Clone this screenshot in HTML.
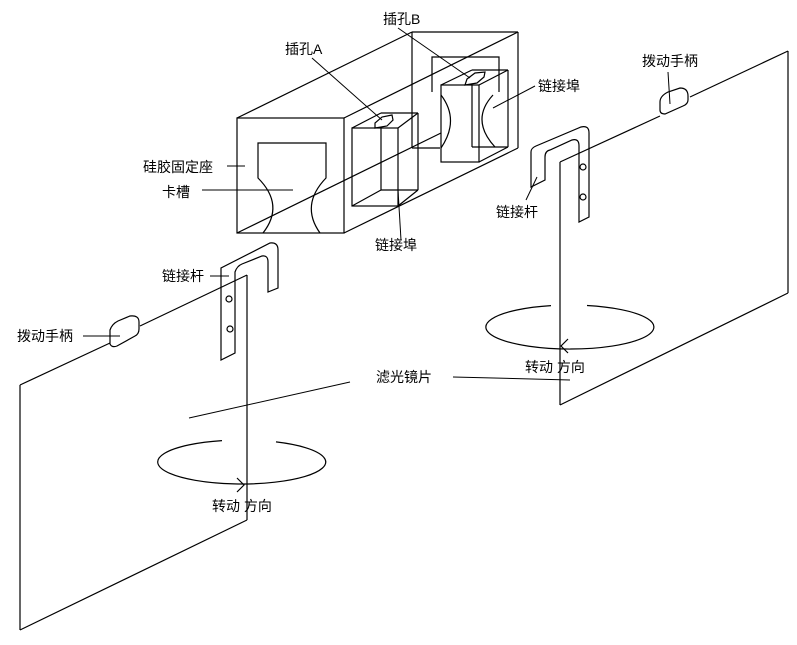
<!DOCTYPE html>
<html><head><meta charset="utf-8"><style>
html,body{margin:0;padding:0;background:#fff;}
svg{display:block;}
text{font-family:"Liberation Sans","Noto Sans CJK SC",sans-serif;font-size:14px;fill:#000;}
</style></head><body>
<svg width="797" height="645" viewBox="0 0 797 645" xmlns="http://www.w3.org/2000/svg">
<g fill="none" stroke="#000" stroke-width="1.2">
<rect x="237" y="118" width="107" height="115"/>
<line x1="237" y1="118" x2="412" y2="32"/>
<line x1="344" y1="118" x2="518" y2="32"/>
<line x1="412" y1="32" x2="518" y2="32"/>
<line x1="518" y1="32" x2="518" y2="148"/>
<line x1="344" y1="233" x2="518" y2="148"/>
<line x1="237" y1="233" x2="441" y2="133"/>
<line x1="412" y1="32" x2="412" y2="148"/>
<line x1="412" y1="148" x2="440" y2="148"/>
<path d="M263,233 Q285,205 258,178 L258,143 L326,143 L326,178 Q300,205 320,233"/>
<rect x="352" y="128" width="46" height="78"/>
<line x1="352" y1="128" x2="381" y2="113"/>
<line x1="381" y1="113" x2="418" y2="113"/>
<line x1="398" y1="128" x2="418" y2="113"/>
<line x1="418" y1="113" x2="418" y2="190"/>
<line x1="381" y1="128" x2="381" y2="190"/>
<line x1="381" y1="190" x2="418" y2="190"/>
<line x1="352" y1="206" x2="381" y2="190"/>
<line x1="398" y1="206" x2="418" y2="190"/>
<path d="M375,128 L375,123 L382,117 L392,115 L393,120 L387,126 Z"/>
<rect x="441" y="85" width="38" height="77"/>
<line x1="441" y1="85" x2="472" y2="70"/>
<line x1="472" y1="70" x2="508" y2="70"/>
<line x1="479" y1="85" x2="508" y2="70"/>
<line x1="508" y1="70" x2="508" y2="147"/>
<line x1="472" y1="85" x2="472" y2="147"/>
<line x1="472" y1="147" x2="508" y2="147"/>
<line x1="479" y1="162" x2="508" y2="147"/>
<path d="M432,92 L432,57 L499,57 L499,92"/>
<path d="M441,95 Q460,120 441,148"/>
<path d="M493,95 Q470,120 495,147"/>
<path d="M465,85 L467,79 L475,73 L485,72 L484,77 L477,83 Z"/>
<line x1="560" y1="162" x2="560" y2="405"/>
<line x1="560" y1="405" x2="788" y2="293"/>
<line x1="788" y1="293" x2="788" y2="51"/>
<line x1="560" y1="162" x2="660" y2="116"/>
<line x1="690" y1="97" x2="788" y2="51"/>
<path d="M660,102 Q660,96 668,92 L680,88 Q688,88 688,96 L688,100 Q688,104 683,106 L665,114 Q660,114 660,110 Z"/>
<line x1="20" y1="385" x2="20" y2="630"/>
<line x1="20" y1="630" x2="247" y2="520"/>
<line x1="247" y1="275" x2="247" y2="520"/>
<line x1="20" y1="385" x2="110" y2="343"/>
<line x1="140" y1="326" x2="247" y2="275"/>
<path d="M110,330 Q112,324 118,321 L130,316 Q139,315 139,322 L139,329 Q139,334 135,336 L117,346 Q112,348 110,344 Z"/>
<path d="M222,440.6 A84,22 0 1 0 276,441.9"/>
<path d="M551,305.6 A84,22 0 1 0 587,305.5"/>
<path d="M237,478 L244,485 L237,492" />
<path d="M568,339 L561,346 L568,353"/>
<path d="M221,268 L221,360 L235,353 L235,272 Q237,266 242,264 L262,256 Q268,255 268,262 L268,292 L278,288 L278,250 Q278,242 270,243 L221,268 Z"/>
<circle cx="229" cy="299" r="3"/>
<circle cx="230" cy="329" r="3"/>
<path d="M531,152 L531,187 L545,180 L545,157 Q545,151 550,150 L572,140 Q579,138 579,146 L579,222 L589,217 L589,133 Q589,125 581,127 L536,146 Q531,148 531,152 Z"/>
<circle cx="583" cy="167" r="3"/>
<circle cx="583" cy="197" r="3"/>
</g>
<g fill="none" stroke="#000" stroke-width="1">
<line x1="312" y1="58" x2="382" y2="120"/>
<line x1="398" y1="28" x2="470" y2="78"/>
<line x1="535" y1="86" x2="493" y2="108"/>
<line x1="227" y1="166" x2="245" y2="166"/>
<line x1="202" y1="190" x2="293" y2="190"/>
<line x1="398" y1="190" x2="401" y2="240"/>
<line x1="526" y1="200" x2="537" y2="177"/>
<line x1="210" y1="276" x2="229" y2="276"/>
<line x1="83" y1="336" x2="120" y2="336"/>
<line x1="668" y1="72" x2="670" y2="104"/>
<line x1="189" y1="418" x2="350" y2="382"/>
<line x1="453" y1="377" x2="570" y2="380"/>
</g>
<text x="285" y="54">插孔A</text>
<text x="383" y="24">插孔B</text>
<text x="538" y="91">链接埠</text>
<text x="143" y="172">硅胶固定座</text>
<text x="162" y="197">卡槽</text>
<text x="375" y="250">链接埠</text>
<text x="496" y="217">链接杆</text>
<text x="642" y="66">拨动手柄</text>
<text x="162" y="281">链接杆</text>
<text x="17" y="341">拨动手柄</text>
<text x="376" y="382">滤光镜片</text>
<text x="525" y="372">转动 方向</text>
<text x="212" y="511">转动 方向</text>
</svg>
</body></html>
